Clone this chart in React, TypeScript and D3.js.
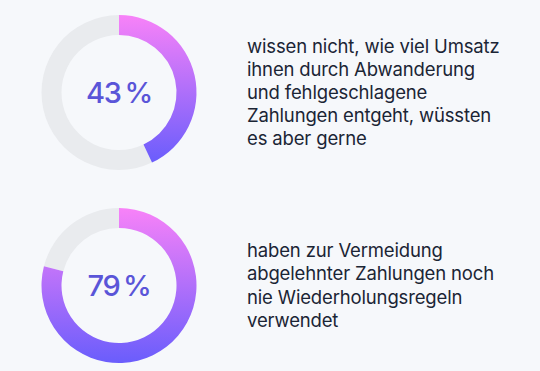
import React, { useEffect, useRef } from "react";
import * as d3 from "d3";

// shares of respondents (percent)
const values = [43, 79];
const labels = ["43\u2009%", "79\u2009%"];
const captions = [
  ["wissen nicht, wie viel Umsatz", "ihnen durch Abwanderung", "und fehlgeschlagene", "Zahlungen entgeht, wüssten", "es aber gerne"],
  ["haben zur Vermeidung", "abgelehnter Zahlungen noch", "nie Wiederholungsregeln", "verwendet"],
];

const W = 540, H = 371;
const colors = { bg: "#f6f8fb", track: "#e9ebee", top: "#f882f8", bottom: "#6a5dfc", label: "#5a55d8", text: "#1b2535" };

export default function App() {
  const ref = useRef<SVGSVGElement>(null);

  useEffect(() => {
    const svg = d3.select(ref.current);
    svg.selectAll("*").remove();

    svg.append("rect").attr("width", W).attr("height", H).attr("fill", colors.bg);

    const grad = svg.append("defs").append("linearGradient")
      .attr("id", "ring")
      .attr("x1", "0%").attr("y1", "0%")
      .attr("x2", "0%").attr("y2", "100%");
    grad.append("stop").attr("offset", "0%").attr("stop-color", colors.top);
    grad.append("stop").attr("offset", "100%").attr("stop-color", colors.bottom);

    const angle = d3.scaleLinear().domain([0, 100]).range([0, 2 * Math.PI]);
    const rOut = 77.5, rIn = 57.5;
    const arc = d3.arc<any>().innerRadius(rIn).outerRadius(rOut);

    const cx = 119;
    const cy = d3.scalePoint<number>().domain([0, 1]).range([92.5, 285.5]);

    values.forEach((v, i) => {
      const g = svg.append("g").attr("transform", `translate(${cx},${cy(i)})`);
      g.append("path")
        .attr("d", arc({ startAngle: angle(v), endAngle: angle(100) }))
        .attr("fill", colors.track);
      g.append("path")
        .attr("d", arc({ startAngle: angle(0), endAngle: angle(v) }))
        .attr("fill", "url(#ring)");
      g.append("text")
        .attr("text-anchor", "middle")
        .attr("dy", "0.36em")
        .attr("fill", colors.label)
        .style("font-family", "Inter, sans-serif")
        .style("font-size", "29px")
        .style("font-weight", 500)
        .style("letter-spacing", "-1.3px")
        .text(labels[i]);

      const lines = captions[i];
      const lineH = 23.2;
      const y0 = cy(i) - ((lines.length - 1) * lineH) / 2 + 6.5;
      const t = svg.append("text")
        .attr("fill", colors.text)
        .style("font-family", "Inter, sans-serif")
        .style("font-size", "18.5px")
        .style("letter-spacing", "-0.15px");
      lines.forEach((l, j) => {
        t.append("tspan").attr("x", 247).attr("y", y0 + j * lineH).text(l);
      });
    });
  }, []);

  return (
    <svg ref={ref} width={W} height={H} style={{ display: "block", position: "absolute", left: 0, top: 0 }} />
  );
}
